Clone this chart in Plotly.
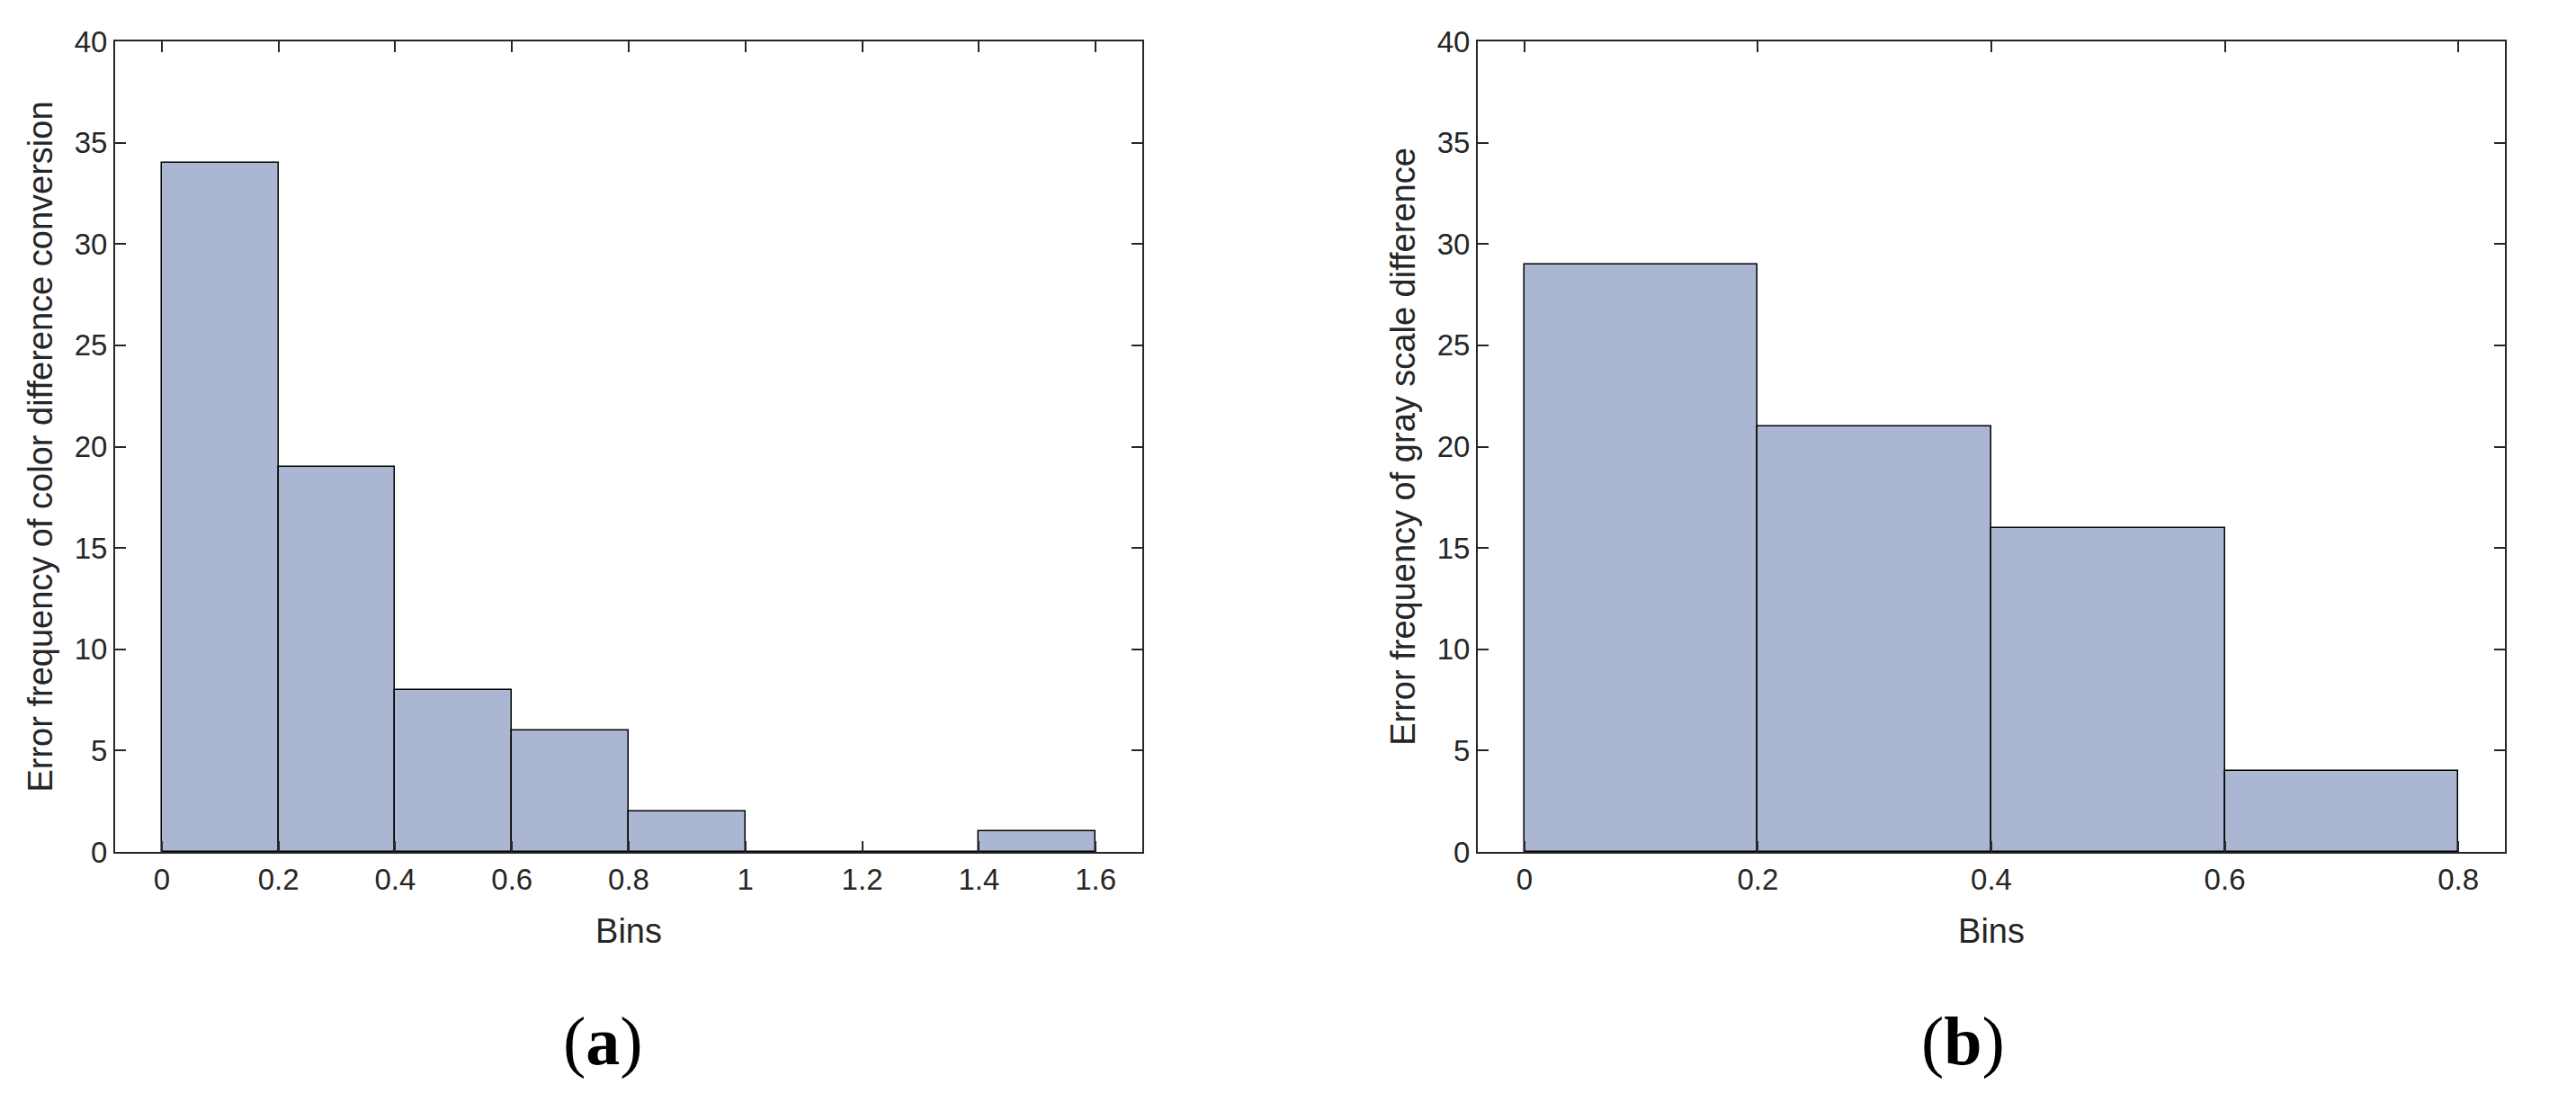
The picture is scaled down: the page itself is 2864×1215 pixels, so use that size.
import numpy as np
import plotly.graph_objects as go

# Histogram (a): color difference conversion errors
edges_a = [0, 0.2, 0.4, 0.6, 0.8, 1.0, 1.2, 1.4, 1.6]
counts_a = [34, 19, 8, 6, 2, 0, 0, 1]

# Histogram (b): gray scale difference errors
edges_b = [0, 0.2, 0.4, 0.6, 0.8]
counts_b = [29, 21, 16, 4]

xticks_a = [0, 0.2, 0.4, 0.6, 0.8, 1, 1.2, 1.4, 1.6]
xticks_b = [0, 0.2, 0.4, 0.6, 0.8]
yticks = [0, 5, 10, 15, 20, 25, 30, 35, 40]

BAR_COLOR = "#abb6d2"
AXIS_COLOR = "#262626"
FONT = "Liberation Sans, Arial, sans-serif"


def bar_trace(edges, counts, xaxis, yaxis):
    edges = np.asarray(edges, dtype=float)
    centers = (edges[:-1] + edges[1:]) / 2
    widths = np.diff(edges)
    return go.Bar(
        x=centers,
        y=counts,
        width=widths,
        marker=dict(color=BAR_COLOR, line=dict(color="black", width=1.5)),
        xaxis=xaxis,
        yaxis=yaxis,
        showlegend=False,
        hoverinfo="x+y",
    )


fig = go.Figure()
fig.add_trace(bar_trace(edges_a, counts_a, "x", "y"))
fig.add_trace(bar_trace(edges_b, counts_b, "x2", "y2"))

axis_common = dict(
    showline=True,
    mirror="ticks",
    linecolor=AXIS_COLOR,
    linewidth=2,
    ticks="inside",
    ticklen=12,
    tickwidth=2,
    tickcolor=AXIS_COLOR,
    showgrid=False,
    zeroline=False,
    automargin=False,
    tickfont=dict(family=FONT, size=33, color=AXIS_COLOR),
)
title_font = dict(family=FONT, size=38, color=AXIS_COLOR)

y_top, y_bot = 1 - 46 / 1215, 1 - 947 / 1215

fig.update_layout(
    width=2864,
    height=1215,
    margin=dict(l=0, r=0, t=0, b=0),
    paper_bgcolor="white",
    plot_bgcolor="white",
    bargap=0,
    xaxis=dict(
        axis_common,
        domain=[128 / 2864, 1270 / 2864],
        range=[-0.08, 1.68],
        tickvals=xticks_a,
        ticktext=[f"{v:g}" for v in xticks_a],
        title=dict(text="Bins", font=title_font, standoff=27),
        anchor="y",
    ),
    yaxis=dict(
        axis_common,
        domain=[y_bot, y_top],
        range=[0, 40],
        tickvals=yticks,
        title=dict(text="Error frequency of color difference conversion", font=title_font, standoff=12),
        anchor="x",
    ),
    xaxis2=dict(
        axis_common,
        domain=[1643 / 2864, 2785 / 2864],
        range=[-0.04, 0.84],
        tickvals=xticks_b,
        ticktext=[f"{v:g}" for v in xticks_b],
        title=dict(text="Bins", font=title_font, standoff=27),
        anchor="y2",
    ),
    yaxis2=dict(
        axis_common,
        domain=[y_bot, y_top],
        range=[0, 40],
        tickvals=yticks,
        title=dict(text="Error frequency of gray scale difference", font=title_font, standoff=12),
        anchor="x2",
    ),
)

# Sub-figure labels
for label, xpos in [("a", 670 / 2864), ("b", 2182 / 2864)]:
    fig.add_annotation(
        x=xpos,
        y=1 - 1157 / 1215,
        xref="paper",
        yref="paper",
        text=f"(<b>{label}</b>)",
        showarrow=False,
        font=dict(family="Liberation Serif, Times New Roman, serif", size=76, color="black"),
        xanchor="center",
        yanchor="middle",
    )

fig.write_html(
    "out.html",
    config={"displayModeBar": False},
    post_script="document.body.style.margin='0';",
)
